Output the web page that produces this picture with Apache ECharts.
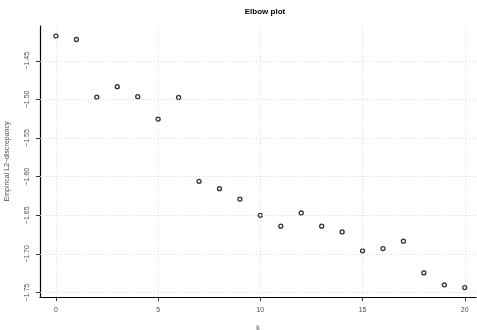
<!DOCTYPE html>
<html>
<head>
<meta charset="utf-8">
<script src="https://cdn.jsdelivr.net/npm/echarts@6/dist/echarts.min.js"></script>
<style>
  html, body { margin: 0; padding: 0; background: #fff; }
  #main { width: 477px; height: 330px; }
</style>
</head>
<body>
<div id="main"></div>
<script>
var chartDom = document.getElementById('main');
var myChart = echarts.init(chartDom);
var option;

// data
let ks = [0, 1, 2, 3, 4, 5, 6, 7, 8, 9, 10, 11, 12, 13, 14, 15, 16, 17, 18, 19, 20];
let discrepancy = [-1.418, -1.4225, -1.497, -1.4835, -1.4965, -1.5255, -1.4975, -1.606, -1.6155, -1.629,
  -1.650, -1.664, -1.647, -1.664, -1.6715, -1.696, -1.693, -1.6835, -1.7245, -1.740, -1.7435];
let xTicks = [0, 5, 10, 15, 20];
let yTicks = [-1.75, -1.70, -1.65, -1.60, -1.55, -1.50, -1.45];

let points = ks.map(function (k, i) { return [k, discrepancy[i]]; });

let font = 'Liberation Sans';

function minus(v, d) {
  return v.toFixed(d).replace('-', '\u2212');
}

option = {
  animation: false,
  textStyle: { fontFamily: font },
  title: {
    text: 'Elbow plot',
    left: 260,
    textAlign: 'center',
    top: 3,
    textStyle: { fontSize: 8, fontWeight: 'bold', color: '#000', fontFamily: font }
  },
  grid: { left: 40, right: 1, top: 26, bottom: 33, outerBoundsMode: 'none', containLabel: false },
  xAxis: {
    type: 'value',
    min: -0.78,
    max: 20.55,
    name: 'k',
    nameLocation: 'middle',
    nameGap: 28,
    nameTextStyle: { fontSize: 7, color: '#4d4d4d', fontFamily: font },
    axisLine: { show: true, onZero: false, lineStyle: { color: '#000', width: 1.2 } },
    axisTick: { show: true, length: 4, customValues: xTicks, lineStyle: { color: '#333' } },
    axisLabel: { customValues: xTicks, fontSize: 7, color: '#4d4d4d', margin: 10, fontFamily: font },
    splitLine: { show: false }
  },
  yAxis: {
    type: 'value',
    min: -1.7557,
    max: -1.405,
    name: 'Empirical L2\u2212discrepancy',
    nameLocation: 'middle',
    nameRotate: 90,
    nameGap: 29,
    nameTextStyle: { fontSize: 7, color: '#4d4d4d', fontFamily: font },
    axisLine: { show: true, onZero: false, lineStyle: { color: '#000', width: 1.2 } },
    axisTick: { show: true, length: 4, customValues: yTicks, lineStyle: { color: '#333' } },
    axisLabel: {
      customValues: yTicks,
      rotate: 90,
      fontSize: 7,
      color: '#4d4d4d',
      margin: 9,
      fontFamily: font,
      formatter: function (v) { return minus(v, 2); }
    },
    splitLine: { show: false }
  },
  series: [
    {
      type: 'scatter',
      data: points,
      symbol: 'circle',
      symbolSize: 4,
      itemStyle: { color: '#fff', borderColor: '#000', borderWidth: 1.3 },
      markLine: {
        silent: true,
        symbol: 'none',
        label: { show: false },
        lineStyle: { color: '#d4d4d4', type: [1, 2], width: 0.8 },
        data: xTicks.map(function (t) { return { xAxis: t }; })
          .concat(yTicks.map(function (t) { return { yAxis: t }; }))
      },
      z: 3
    }
  ]
};

option && myChart.setOption(option);
</script>
</body>
</html>
